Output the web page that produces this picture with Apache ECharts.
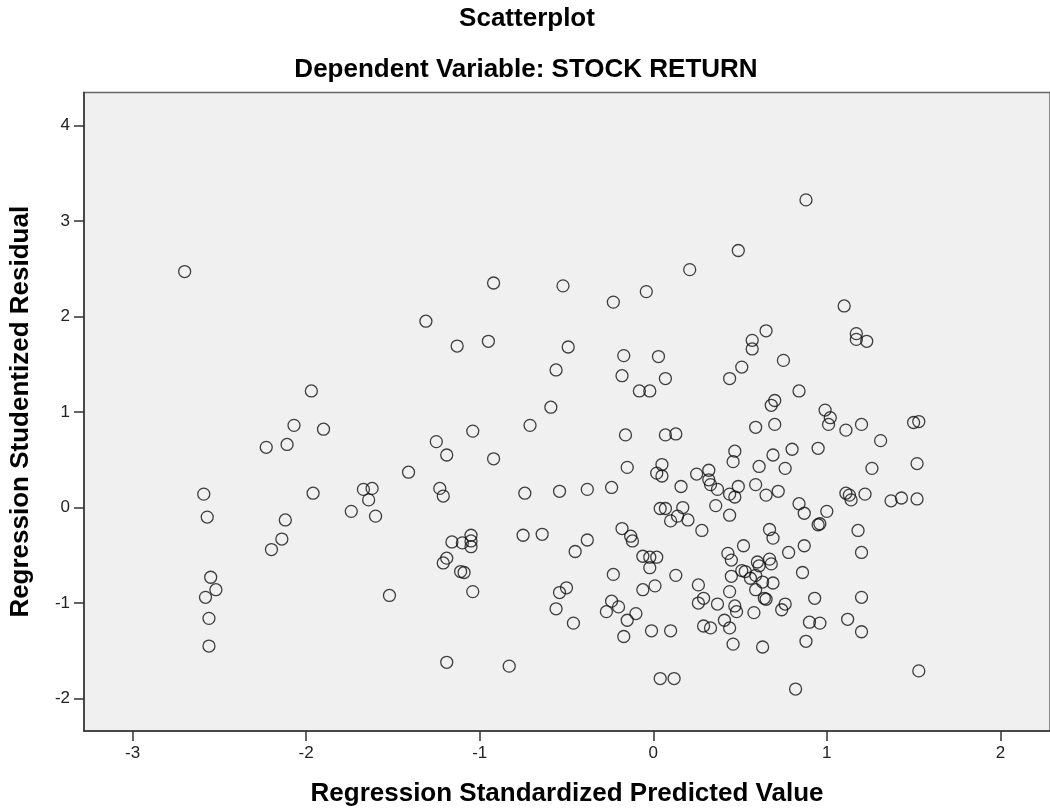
<!DOCTYPE html>
<html>
<head>
<meta charset="utf-8">
<title>Scatterplot</title>
<script src="https://cdn.jsdelivr.net/npm/echarts@6/dist/echarts.min.js"></script>
<style>
  html, body { margin: 0; padding: 0; background: #fff; }
  #chart { width: 1050px; height: 812px; }
</style>
</head>
<body>
<div id="chart"></div>
<script>
// Regression Standardized Predicted Value (x)
var predicted = [
  -2.70, -1.97, -2.07, -1.90, -2.23, -2.11, -1.41, -2.59, -1.96, -1.67,
  -1.62, -1.64, -1.74, -1.60, -2.57, -2.12, -2.14, -2.20, -2.55, -2.52,
  -2.58, -2.56, -2.56, -1.52, -0.92, -0.52, -1.31, -1.13, -0.95, -0.49,
  -0.56, -0.59, -0.23, -0.04, 0.21, -0.17, 0.03, -0.18, 0.07, -0.08,
  -0.02, 0.44, 0.88, 0.49, 1.10, 0.65, 0.57, 0.57, 0.51, 0.75,
  1.17, 1.17, 1.23, 0.84, 0.70, 0.68, 0.99, 1.02, -0.71, -1.04,
  -1.25, -1.19, -0.92, -1.23, -1.21, -0.74, -0.54, -0.38, -0.24, -0.16,
  0.07, 0.13, -0.15, 0.05, 0.02, 0.05, 0.25, 0.32, 0.32, 0.33,
  0.37, 0.47, 0.46, 0.44, 0.16, 0.04, 0.07, 0.17, 0.14, 0.10,
  0.20, 0.36, 0.44, 0.28, -1.16, -1.10, -1.05, -1.05, -1.05, -1.19,
  -1.21, -1.11, -1.09, -1.04, -0.75, -0.64, -0.38, -0.45, -0.18, -0.13,
  -0.12, -0.06, -0.02, 0.02, -0.02, -0.23, 0.13, -0.06, 0.01, 0.26,
  0.29, 0.26, 0.37, 0.43, 0.45, 0.45, 0.44, 0.47, -0.50, -0.54,
  -0.56, -0.46, -0.24, -0.20, -0.27, -0.10, -0.15, -0.17, -0.01, 0.10,
  0.29, 0.33, 0.41, 0.44, 0.46, -1.19, -0.83, 0.04, 0.12, 1.01,
  0.59, 0.70, 1.11, 1.20, 1.50, 1.53, 1.31, 0.69, 0.80, 0.95,
  0.61, 0.76, 1.26, 1.52, 0.49, 0.47, 0.59, 0.65, 0.72, 0.84,
  0.87, 1.00, 0.95, 0.96, 1.11, 1.14, 1.13, 1.22, 1.37, 1.43,
  1.52, 1.18, 0.67, 0.69, 0.52, 0.87, 0.78, 1.20, 0.60, 0.67,
  0.68, 0.61, 0.86, 0.51, 0.53, 0.56, 0.59, 0.63, 0.69, 0.59,
  0.64, 0.65, 0.76, 0.74, 0.48, 0.58, 0.93, 1.20, 0.90, 0.96,
  1.12, 1.20, 0.63, 0.88, 1.53, 0.82
];
// Regression Studentized Residual (y)
var residual = [
  2.47, 1.22, 0.86, 0.82, 0.63, 0.66, 0.37, 0.14, 0.15, 0.19,
  0.20, 0.08, -0.04, -0.09, -0.10, -0.13, -0.33, -0.44, -0.73, -0.86,
  -0.94, -1.16, -1.45, -0.92, 2.35, 2.32, 1.95, 1.69, 1.74, 1.68,
  1.44, 1.05, 2.15, 2.26, 2.49, 1.59, 1.58, 1.38, 1.35, 1.22,
  1.22, 1.35, 3.22, 2.69, 2.11, 1.85, 1.75, 1.66, 1.47, 1.54,
  1.82, 1.76, 1.74, 1.22, 1.12, 1.07, 1.02, 0.94, 0.86, 0.80,
  0.69, 0.55, 0.51, 0.20, 0.12, 0.15, 0.17, 0.19, 0.21, 0.76,
  0.76, 0.77, 0.42, 0.45, 0.36, 0.33, 0.35, 0.39, 0.29, 0.24,
  0.19, 0.59, 0.48, 0.14, 0.22, -0.01, -0.01, 0.00, -0.09, -0.14,
  -0.13, 0.02, -0.08, -0.24, -0.36, -0.37, -0.29, -0.35, -0.41, -0.53,
  -0.58, -0.67, -0.68, -0.88, -0.29, -0.28, -0.34, -0.46, -0.22, -0.30,
  -0.35, -0.51, -0.52, -0.52, -0.63, -0.70, -0.71, -0.86, -0.82, -0.81,
  -0.95, -1.00, -1.01, -0.48, -0.55, -0.72, -0.88, -1.03, -0.84, -0.89,
  -1.06, -1.21, -0.98, -1.04, -1.09, -1.11, -1.18, -1.35, -1.29, -1.29,
  -1.24, -1.26, -1.18, -1.26, -1.43, -1.62, -1.66, -1.79, -1.79, 0.87,
  0.84, 0.87, 0.81, 0.87, 0.89, 0.90, 0.70, 0.55, 0.61, 0.62,
  0.43, 0.41, 0.41, 0.46, 0.22, 0.11, 0.24, 0.13, 0.17, 0.04,
  -0.06, -0.04, -0.18, -0.17, 0.15, 0.08, 0.13, 0.14, 0.07, 0.10,
  0.09, -0.24, -0.23, -0.32, -0.40, -0.40, -0.47, -0.47, -0.57, -0.54,
  -0.59, -0.61, -0.68, -0.66, -0.67, -0.74, -0.71, -0.78, -0.79, -0.86,
  -0.95, -0.96, -1.01, -1.07, -1.09, -1.10, -0.95, -0.94, -1.20, -1.21,
  -1.17, -1.30, -1.46, -1.40, -1.71, -1.90
];
var xTicks = [-3, -2, -1, 0, 1, 2];
var yTicks = [-2, -1, 0, 1, 2, 3, 4];

var font = '"Liberation Sans", Arial, sans-serif';

var points = [];
for (var i = 0; i < predicted.length; i++) {
    points.push([predicted[i], residual[i]]);
}

var myChart = echarts.init(document.getElementById('chart'));
var option = {
    backgroundColor: '#fff',
    animation: false,
    graphic: [
        {
            type: 'text', x: 527, y: 19,
            style: {
                text: 'Scatterplot', fill: '#000',
                font: 'bold 26px ' + font,
                textAlign: 'center', textVerticalAlign: 'middle',
                align: 'center', verticalAlign: 'middle'
            }
        },
        {
            type: 'text', x: 526, y: 70,
            style: {
                text: 'Dependent Variable: STOCK RETURN', fill: '#000',
                font: 'bold 26px ' + font,
                textAlign: 'center', textVerticalAlign: 'middle',
                align: 'center', verticalAlign: 'middle'
            }
        }
    ],
    grid: {
        left: 82,
        right: -10,
        top: 92.5,
        bottom: 80.3,
        show: true,
        backgroundColor: '#f0f0f0',
        borderColor: '#666',
        borderWidth: 1.5
    },
    xAxis: {
        type: 'value',
        min: -3.28,
        max: 2.286,
        name: 'Regression Standardized Predicted Value',
        nameLocation: 'middle',
        nameGap: 50,
        nameTextStyle: { fontSize: 26, fontWeight: 'bold', color: '#000', fontFamily: font },
        axisLine: { onZero: false, lineStyle: { color: '#333', width: 1.5 } },
        axisTick: { length: 10, customValues: xTicks, lineStyle: { color: '#333', width: 1.5 } },
        axisLabel: {
            customValues: xTicks, margin: 14, fontSize: 17, color: '#222', fontFamily: font,
            formatter: function (v) { return String(v); }
        },
        splitLine: { show: false }
    },
    yAxis: {
        type: 'value',
        min: -2.339,
        max: 4.344,
        name: 'Regression Studentized Residual',
        nameLocation: 'middle',
        nameGap: 50,
        nameTextStyle: { fontSize: 26, fontWeight: 'bold', color: '#000', fontFamily: font },
        axisLine: { onZero: false, lineStyle: { color: '#333', width: 1.5 } },
        axisTick: { length: 10, customValues: yTicks, lineStyle: { color: '#333', width: 1.5 } },
        axisLabel: {
            customValues: yTicks, margin: 14, fontSize: 17, color: '#222', fontFamily: font,
            formatter: function (v) { return String(v); }
        },
        splitLine: { show: false }
    },
    series: [
        {
            type: 'scatter',
            data: points,
            symbol: 'circle',
            symbolSize: 12,
            itemStyle: {
                color: 'rgba(0,0,0,0)',
                borderColor: '#111',
                borderWidth: 1.3
            },
            emphasis: { disabled: true }
        }
    ]
};
myChart.setOption(option);
</script>
</body>
</html>
